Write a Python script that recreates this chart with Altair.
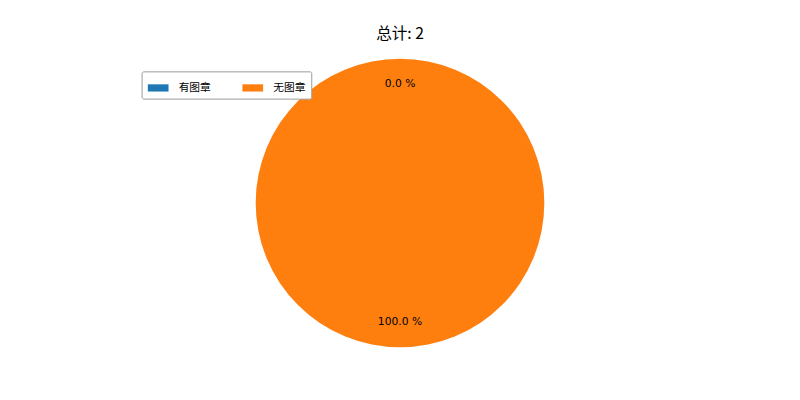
import pandas as pd
import altair as alt

categories = ["有图章", "无图章"]
counts = [0, 2]
pct_labels = ["0.0 %", "100.0 %"]
colors = ["#1f77b4", "#ff7f0e"]

df = pd.DataFrame({"cat": categories, "count": counts, "label": pct_labels,
                   "order": [0, 1]})

base = alt.Chart(df).encode(
    theta=alt.Theta("count:Q", stack=True),
    order=alt.Order("order:Q"),
)

pie = base.mark_arc(outerRadius=148, stroke=None).encode(
    color=alt.Color(
        "cat:N",
        scale=alt.Scale(domain=categories, range=colors),
        sort=categories,
        legend=alt.Legend(
            title=None, orient="none", legendX=137, legendY=60,
            direction="horizontal", columns=2, columnPadding=32,
            symbolType="M-1,-0.35H1V0.35H-1Z", symbolSize=450,
            symbolStrokeWidth=0, labelFontSize=11, labelOffset=10,
            labelFont="Noto Sans CJK SC",
            strokeColor="#999999", fillColor="white", padding=6, cornerRadius=2,
        ),
    )
)

labels = base.mark_text(radius=122, fontSize=11, font="DejaVu Sans").encode(
    text="label:N"
)

chart = (pie + labels).properties(
    width=804, height=390, autosize="none",
    padding={"left": 0, "top": 0, "right": 0, "bottom": 0},
    title=alt.TitleParams("总计: 2", fontSize=16, fontWeight="normal",
                          font="Noto Sans CJK SC", offset=-30, anchor="middle"),
).configure_view(stroke=None)

chart.save("out.html", embed_options={"renderer": "svg", "actions": False})
